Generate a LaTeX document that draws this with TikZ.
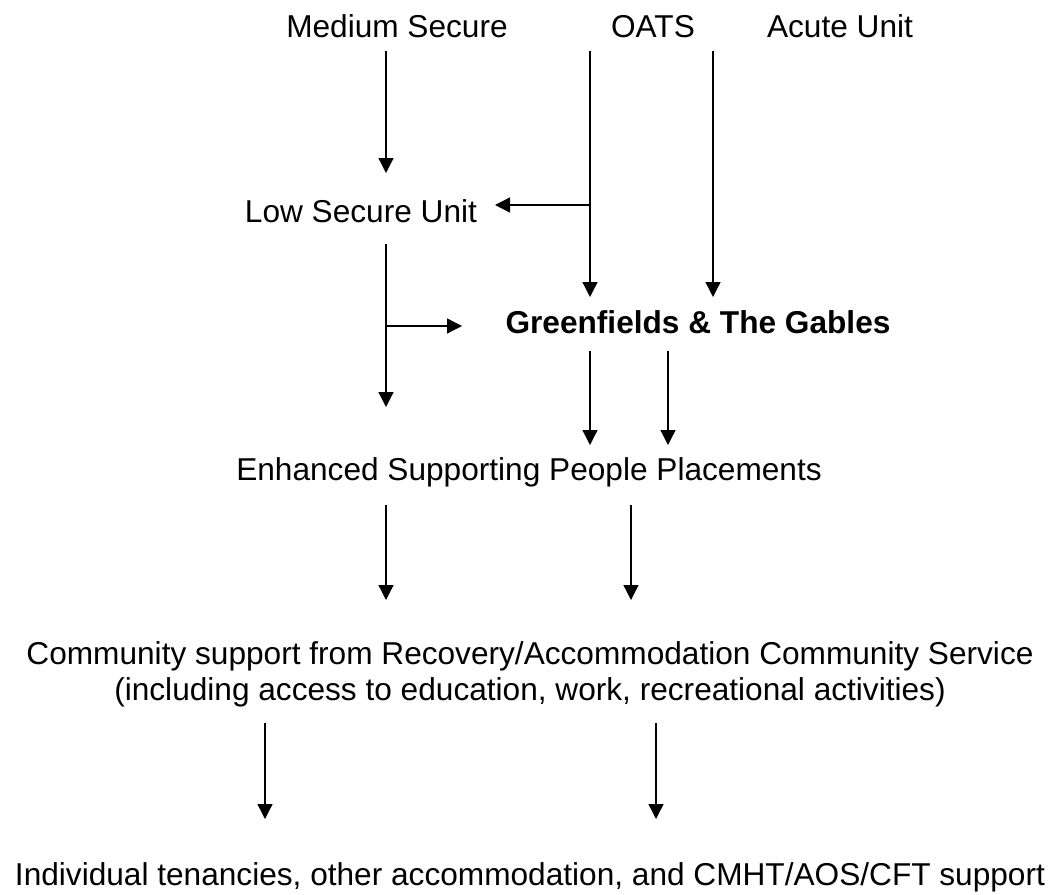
\documentclass[tikz,border=0pt]{standalone}
\usepackage{fontspec}
\setmainfont{Liberation Sans}
\usetikzlibrary{arrows.meta}

\begin{document}
\begin{tikzpicture}[
  x=0.02cm, y=-0.02cm,
  unit/.style={inner sep=0pt, anchor=base, font=\fontsize{18}{20}\selectfont},
  hub/.style={unit, font=\fontsize{18}{20}\selectfont\bfseries},
  link/.style={line width=0.75pt},
  arrow/.style={link, -{Triangle[length=0.3cm, width=0.3cm]}},
]
\useasboundingbox (0,0) rectangle (1061,895);

% ---- services ----
\node[unit] (medium) at (397,38)  {Medium Secure};
\node[unit] (oats)   at (653,38)  {OATS};
\node[unit] (acute)  at (840,38)  {Acute Unit};
\node[unit] (low)    at (361,222) {Low Secure Unit};
\node[hub]  (gables) at (698,333) {Greenfields \& The Gables};
\node[unit] (esp)    at (529,480) {Enhanced Supporting People Placements};
\node[unit, align=center] (community) at (530,700)
  {Community support from Recovery/Accommodation Community Service\\
   (including access to education, work, recreational activities)};
\node[unit] (tenancy) at (530,885)
  {Individual tenancies, other accommodation, and CMHT/AOS/CFT support};

% ---- arrow ends ----
\coordinate (medium-out)  at (386,51);
\coordinate (low-in)      at (386,173);
\coordinate (oats-out)    at (590,51);
\coordinate (oats-split)  at (590,205);
\coordinate (low-side)    at (495,205);
\coordinate (gables-in1)  at (590,297);
\coordinate (acute-out)   at (713,51);
\coordinate (gables-in2)  at (713,297);
\coordinate (low-out)     at (386,244);
\coordinate (low-split)   at (386,326);
\coordinate (gables-side) at (462,326);
\coordinate (esp-in0)     at (386,407);
\coordinate (gables-out1) at (590,351);
\coordinate (esp-in1)     at (590,445);
\coordinate (gables-out2) at (668,351);
\coordinate (esp-in2)     at (668,445);
\coordinate (esp-out1)    at (386,505);
\coordinate (com-in1)     at (386,600);
\coordinate (esp-out2)    at (631,505);
\coordinate (com-in2)     at (631,600);
\coordinate (com-out1)    at (265,723);
\coordinate (ten-in1)     at (265,819);
\coordinate (com-out2)    at (656,723);
\coordinate (ten-in2)     at (656,819);

% ---- connectors ----
\draw[arrow] (medium-out)  -- (low-in);
\draw[arrow] (oats-out)    -- (gables-in1);
\draw[arrow] (oats-split)  -- (low-side);
\draw[arrow] (acute-out)   -- (gables-in2);
\draw[arrow] (low-out)     -- (esp-in0);
\draw[arrow] (low-split)   -- (gables-side);
\draw[arrow] (gables-out1) -- (esp-in1);
\draw[arrow] (gables-out2) -- (esp-in2);
\draw[arrow] (esp-out1)    -- (com-in1);
\draw[arrow] (esp-out2)    -- (com-in2);
\draw[arrow] (com-out1)    -- (ten-in1);
\draw[arrow] (com-out2)    -- (ten-in2);

\end{tikzpicture}
\end{document}
